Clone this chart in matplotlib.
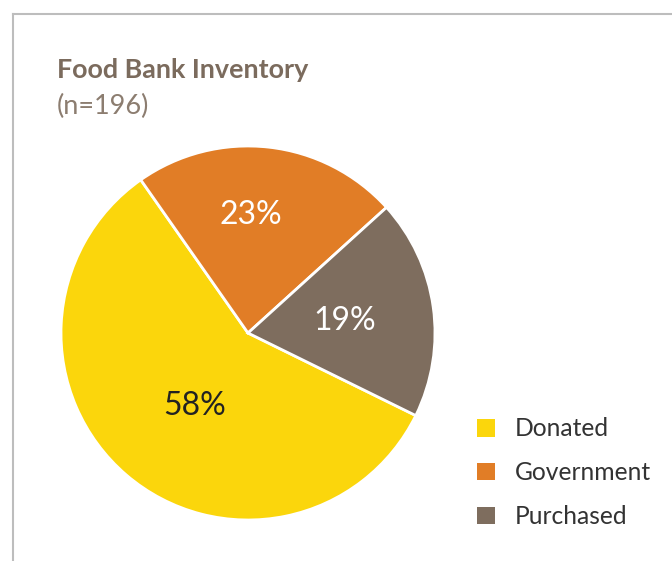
import numpy as np
import matplotlib.pyplot as plt
from matplotlib.lines import Line2D

categories = ["Donated", "Government", "Purchased"]
shares = [58, 23, 19]
colors = ["#FBD60C", "#E17D26", "#7E6D5E"]
label_colors = ["#222222", "white", "white"]
label_dist = [0.48, 0.63, 0.52]
label_shift = [4.5, 5.0, -1.0]  # degrees

W, H = 672, 561
plt.rcParams["font.family"] = ["Lato", "DejaVu Sans"]
fig = plt.figure(figsize=(W / 100, H / 100), dpi=100)

# axes in pixel units so the pie lands where the reference has it
ax = fig.add_axes([0, 0, 1, 1])

cx, cy, r = 248, H - 333, 187
wedges, texts, autotexts = ax.pie(
    shares,
    colors=colors,
    startangle=-26.2,
    counterclock=False,
    center=(cx, cy),
    radius=r,
    autopct="%d%%",
    wedgeprops=dict(edgecolor="white", linewidth=2),
    frame=True,
)
ax.set_xlim(0, W)
ax.set_ylim(0, H)
ax.set_aspect("equal")
ax.axis("off")

# frame lines (top and left)
ax.add_line(Line2D([13, W], [H - 14, H - 14], color="#BDBDBD", lw=1.5))
ax.add_line(Line2D([13, 13], [H - 14, 0], color="#BDBDBD", lw=1.5))

for w, t, d, s, c in zip(wedges, autotexts, label_dist, label_shift, label_colors):
    ang = np.deg2rad((w.theta1 + w.theta2) / 2 + s)
    t.set_position((cx + d * r * np.cos(ang), cy + d * r * np.sin(ang)))
    t.set_color(c)
    t.set_fontsize(23)

fig.text(57 / W, 1 - 70 / H, "Food Bank Inventory", fontsize=19.4, fontweight="bold",
         color="#7B6B5D", va="center", ha="left")
fig.text(57 / W, 1 - 106 / H, "(n=196)", fontsize=19.5, color="#8C7D70",
         va="center", ha="left")

leg = ax.legend(wedges, categories, loc="upper left",
                bbox_to_anchor=(465 / W, 1 - 405 / H), bbox_transform=fig.transFigure,
                frameon=False, fontsize=17.7, handlelength=0.73, handleheight=0.73,
                handletextpad=0.8, labelspacing=0.85, borderpad=0)
for t in leg.get_texts():
    t.set_color("#333333")
for h in leg.legend_handles:
    h.set_edgecolor("none")

fig.savefig("out.png", dpi=100)
